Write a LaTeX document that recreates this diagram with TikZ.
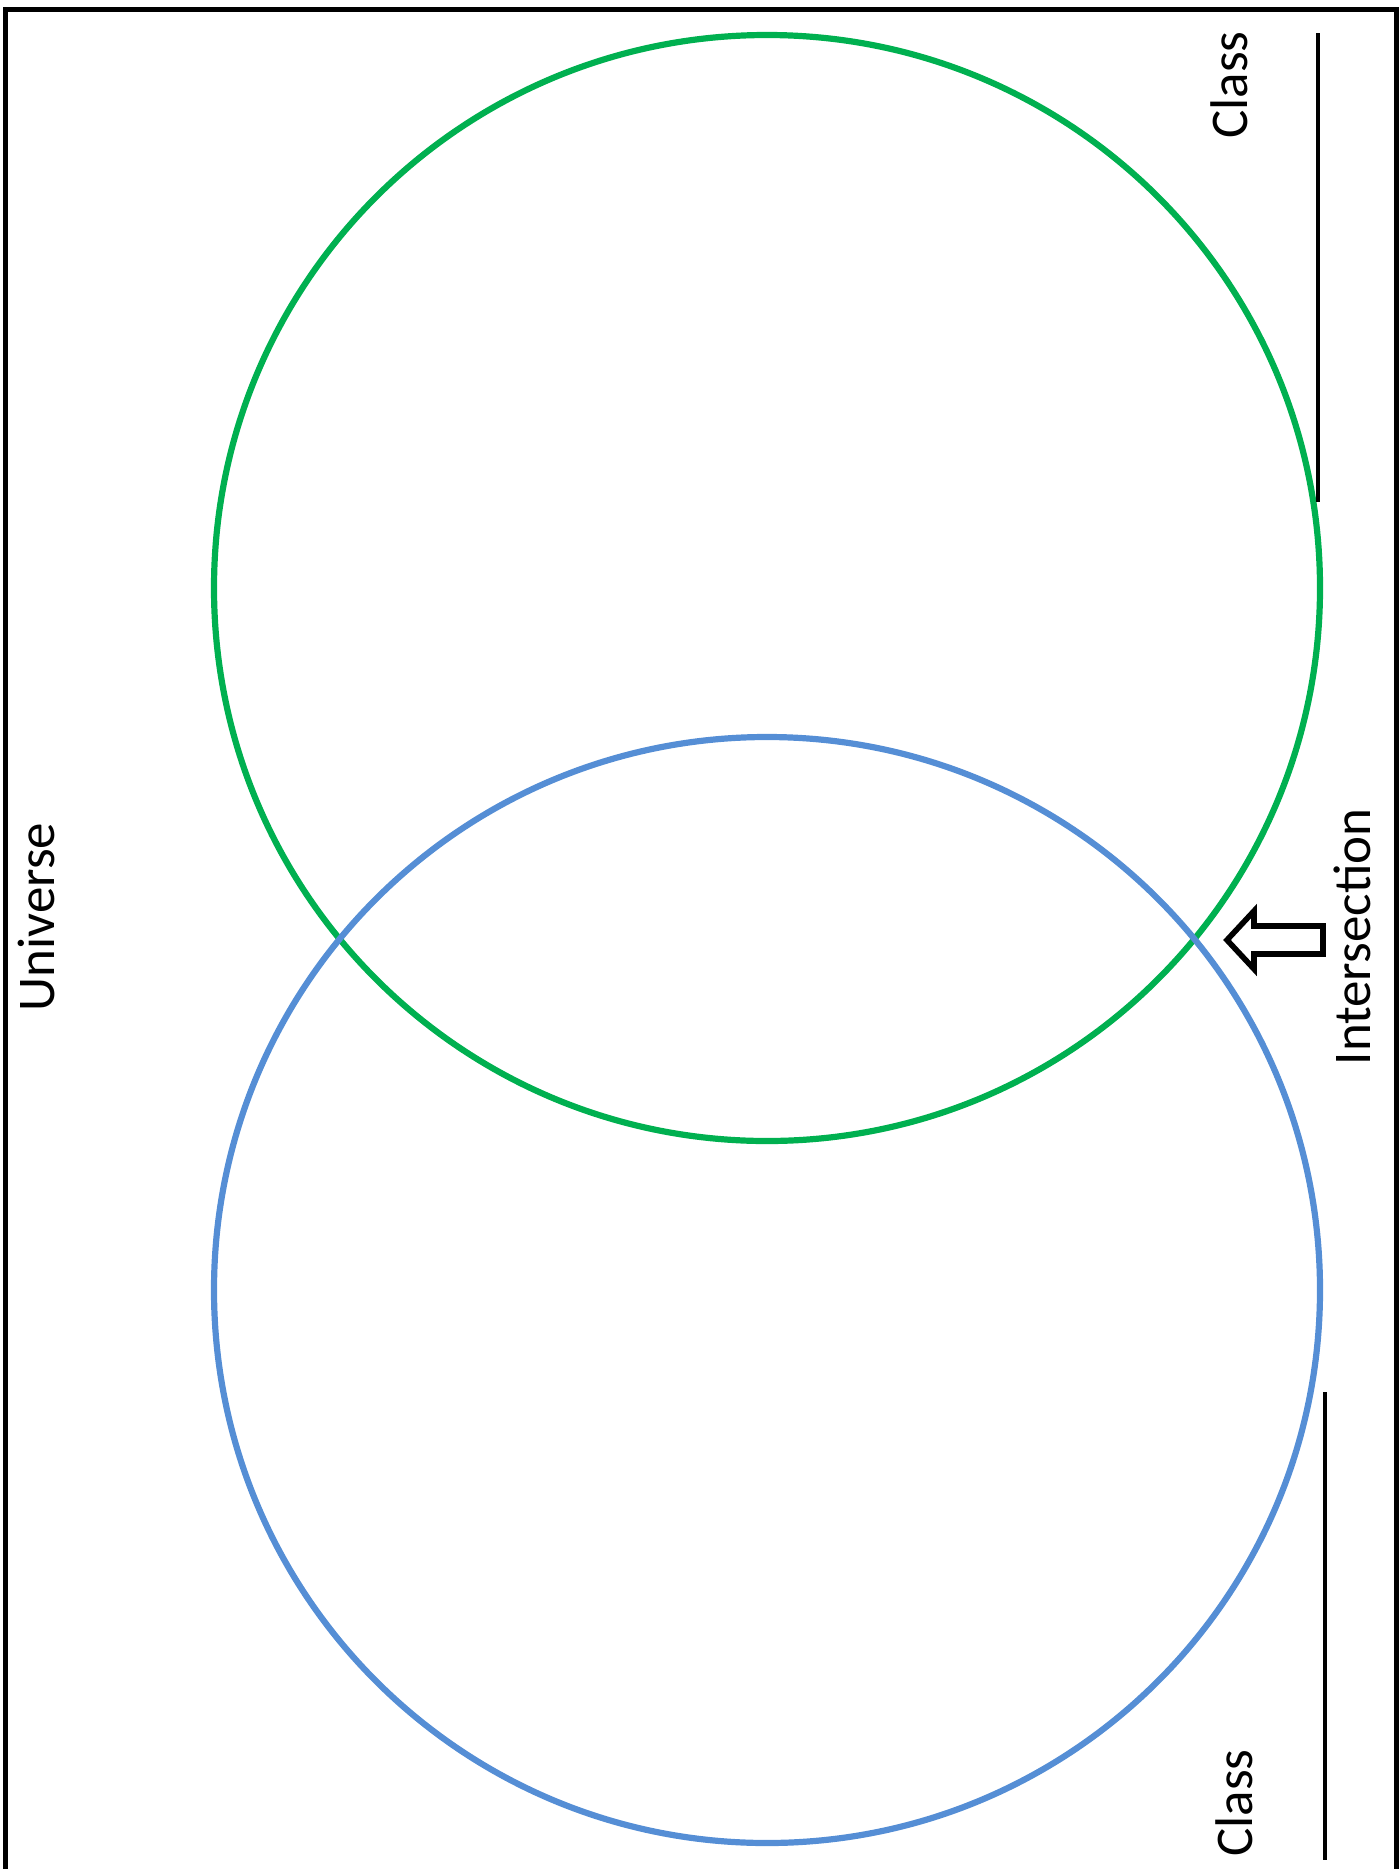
\documentclass[tikz,border=0pt]{standalone}
\usepackage{fontspec}
\setmainfont{Carlito}
\usepackage{tikz}
\usetikzlibrary{positioning}
\definecolor{ClassGreen}{HTML}{00B050}
\definecolor{ClassBlue}{HTML}{558ED5}

\begin{document}
\begin{tikzpicture}[x=0.5pt, y=-0.5pt,
  ring/.style={line width=3.1pt},
  txt/.style={rotate=90, inner sep=0pt, font=\fontsize{26.5}{30}\selectfont},
  blank/.style={line width=2pt, black}]
  \useasboundingbox (0,0) rectangle (1400,1869);
  % universe frame, open at the bottom
  \draw[line width=2.5pt] (5,1869) -- (5,9) -- (1396,9) -- (1396,1869);
  \node[txt] (univ) at (36,917) {Universe};
  % the two classes
  \coordinate (gc) at (767,588);
  \coordinate (bc) at (767,1290);
  \draw[ring, ClassGreen] (gc) circle[radius=553];
  \draw[ring, ClassBlue] (bc) circle[radius=553];
  % blanks to write the classes on
  \node[txt] (ctop) at (1229,85) {Class};
  \coordinate (t1) at (1318,33);
  \coordinate (t2) at (1318,502);
  \draw[blank] (t1) -- (t2);
  \node[txt] (cbot) at (1234,1803) {Class};
  \coordinate (b1) at (1325,1392);
  \coordinate (b2) at (1325,1860);
  \draw[blank] (b1) -- (b2);
  % pointer to the overlap
  \node[txt] (isec) at (1352,937) {Intersection};
  \coordinate (tip) at (1227,940);
  \draw[line width=2.8pt, fill=white, line join=miter]
    (tip) -- ++(27,-29) -- ++(0,15) -- ++(69,0) -- ++(0,28)
    -- ++(-69,0) -- ++(0,15) -- cycle;
\end{tikzpicture}
\end{document}
